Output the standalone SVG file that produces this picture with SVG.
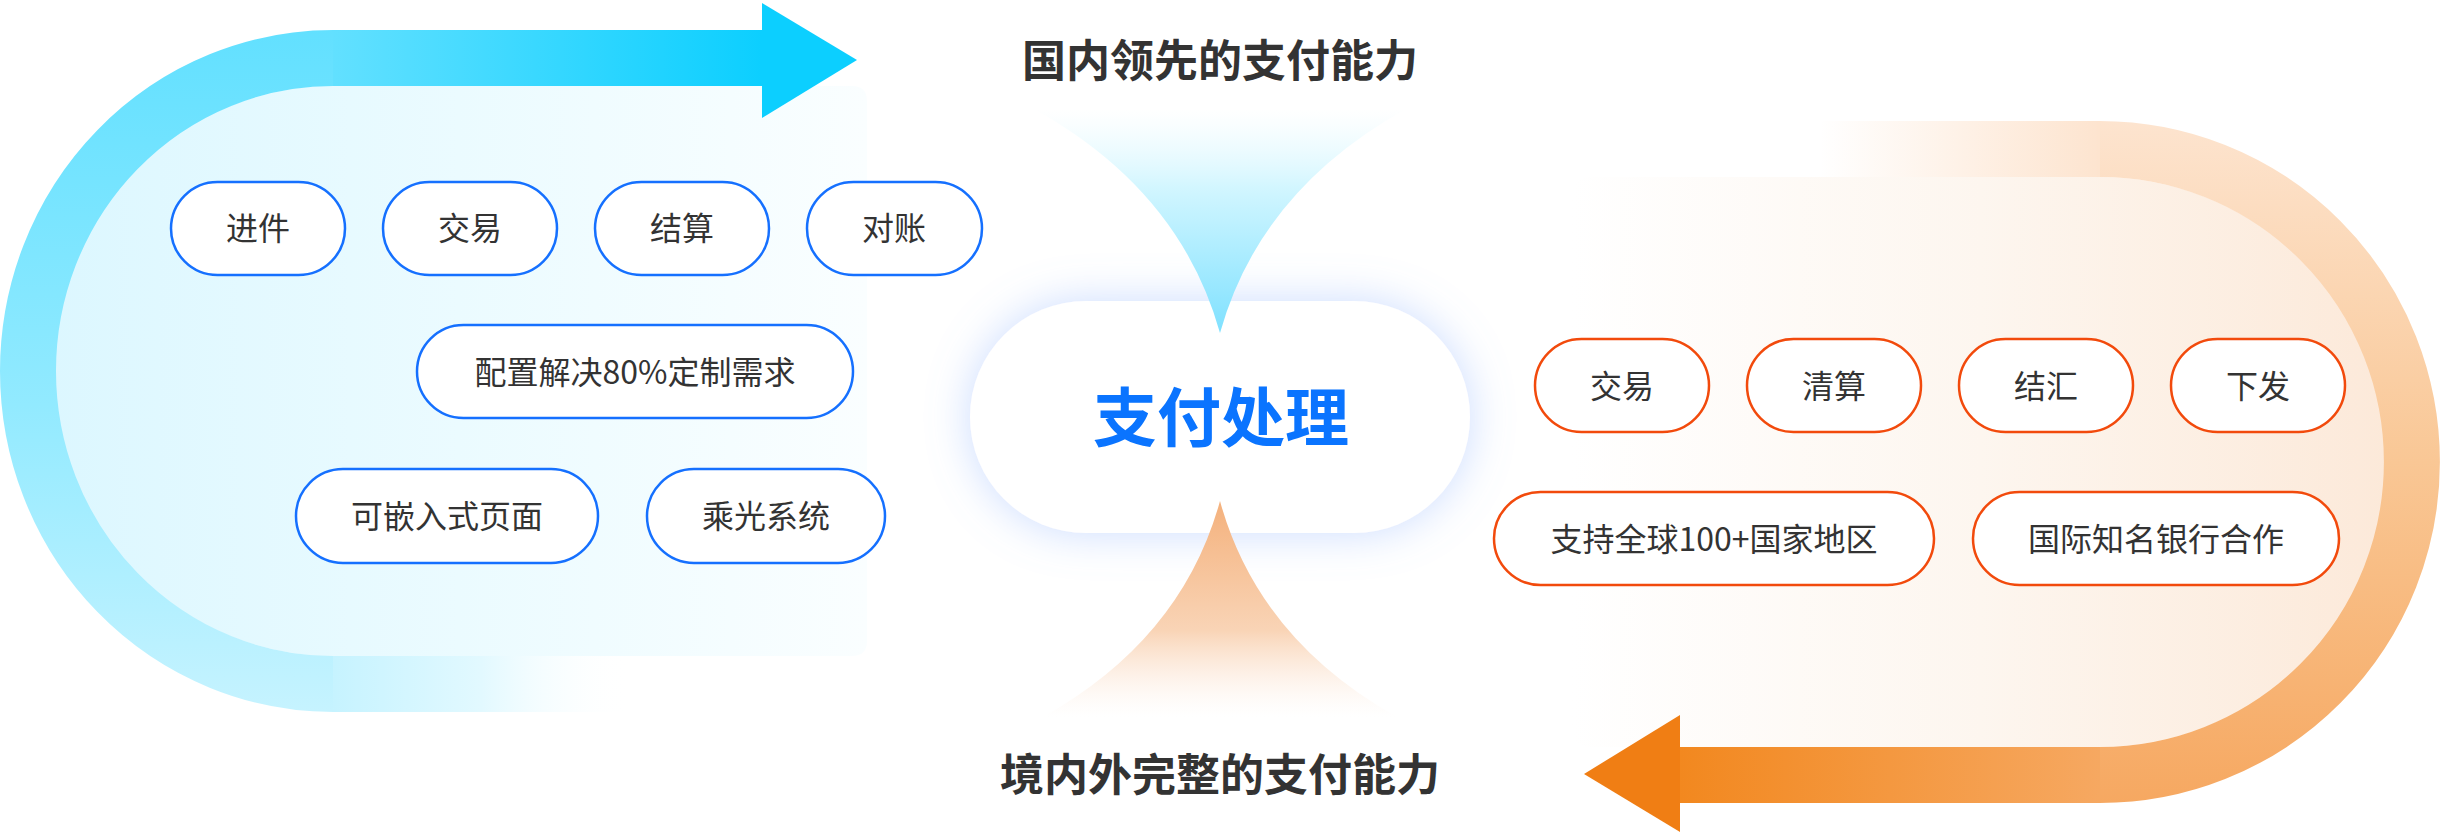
<svg xmlns="http://www.w3.org/2000/svg" width="2440" height="832" viewBox="0 0 2440 832">
<style>
.pb{fill:#ffffff;stroke:#1570ff;stroke-width:2.5}
.po{fill:#ffffff;stroke:#f24a0c;stroke-width:2.5}
.t{font-family:"Noto Sans CJK SC","Noto Sans",sans-serif;font-size:32px;fill:#333333;text-anchor:middle}
.h{font-family:"Noto Sans CJK SC","Noto Sans",sans-serif;font-size:44px;font-weight:700;fill:#333333;text-anchor:middle}
.band{fill:none;stroke-width:56;stroke-linecap:butt}
</style>
<defs>
<linearGradient id="lTop" gradientUnits="userSpaceOnUse" x1="333" y1="0" x2="762" y2="0">
<stop offset="0" stop-color="#62e0ff"/><stop offset="1" stop-color="#0ccfff"/>
</linearGradient>
<linearGradient id="lCurve" gradientUnits="userSpaceOnUse" x1="0" y1="30" x2="0" y2="712">
<stop offset="0" stop-color="#62e0ff"/><stop offset="0.55" stop-color="#92eaff"/><stop offset="1" stop-color="#c6f3ff"/>
</linearGradient>
<linearGradient id="lBot" gradientUnits="userSpaceOnUse" x1="333" y1="0" x2="630" y2="0">
<stop offset="0" stop-color="#c6f3ff"/><stop offset="0.5" stop-color="#e2f9ff"/><stop offset="1" stop-color="#ffffff" stop-opacity="0"/>
</linearGradient>
<linearGradient id="lPanel" gradientUnits="userSpaceOnUse" x1="50" y1="0" x2="867" y2="0">
<stop offset="0" stop-color="#dcf7ff"/><stop offset="0.5" stop-color="#ebfbff"/><stop offset="1" stop-color="#fafeff"/>
</linearGradient>
<linearGradient id="rTop" gradientUnits="userSpaceOnUse" x1="1820" y1="0" x2="2100" y2="0">
<stop offset="0" stop-color="#fde4cf" stop-opacity="0"/><stop offset="1" stop-color="#fde4cf"/>
</linearGradient>
<linearGradient id="rCurve" gradientUnits="userSpaceOnUse" x1="0" y1="121" x2="0" y2="803">
<stop offset="0" stop-color="#fde4cf"/><stop offset="0.5" stop-color="#f9c795"/><stop offset="1" stop-color="#f6a861"/>
</linearGradient>
<linearGradient id="rBot" gradientUnits="userSpaceOnUse" x1="2100" y1="0" x2="1680" y2="0">
<stop offset="0" stop-color="#f6a861"/><stop offset="1" stop-color="#f2881f"/>
</linearGradient>
<linearGradient id="rPanel" gradientUnits="userSpaceOnUse" x1="1572" y1="0" x2="2390" y2="0">
<stop offset="0" stop-color="#ffffff"/><stop offset="0.5" stop-color="#fdf6ef"/><stop offset="1" stop-color="#fce9d9"/>
</linearGradient>
<linearGradient id="fTop" gradientUnits="userSpaceOnUse" x1="0" y1="109" x2="0" y2="333">
<stop offset="0" stop-color="#e6faff" stop-opacity="0"/><stop offset="0.35" stop-color="#d2f6ff"/><stop offset="1" stop-color="#7fe1ff"/>
</linearGradient>
<linearGradient id="fBot" gradientUnits="userSpaceOnUse" x1="0" y1="501" x2="0" y2="717">
<stop offset="0" stop-color="#f4b17c"/><stop offset="0.6" stop-color="#f9d4b6"/><stop offset="1" stop-color="#fdf0e6" stop-opacity="0"/>
</linearGradient>
<filter id="glow" x="-20%" y="-40%" width="140%" height="180%">
<feDropShadow dx="0" dy="0" stdDeviation="22" flood-color="#7ea9ff" flood-opacity="0.4"/>
</filter>
</defs>

<g id="panels">
<path id="panel-left" fill="url(#lPanel)" d="M852,86 L333,86 A279 285 0 0 0 333,656 L852,656 Q867,656 867,641 L867,101 Q867,86 852,86 Z"/>
<path id="panel-right" fill="url(#rPanel)" d="M1592,177 L2100,177 A286 285 0 0 1 2100,747 L1592,747 Q1572,747 1572,727 L1572,197 Q1572,177 1592,177 Z"/>
</g>

<g id="connectors">
<g id="loop-left">
<path class="band" stroke="url(#lCurve)" d="M336,58 L333,58 A305 313 0 0 0 333,684 L336,684"/>
<path class="band" stroke="url(#lTop)" d="M764,58 L333,58"/>
<path class="band" stroke="url(#lBot)" d="M333,684 L630,684"/>
<polygon fill="#0ccfff" points="762,3 857,60 762,118"/>
</g>
<g id="loop-right">
<path class="band" stroke="url(#rCurve)" d="M2097,149 L2100,149 A312 313 0 0 1 2100,775 L2097,775"/>
<path class="band" stroke="url(#rTop)" d="M1820,149 L2100,149"/>
<path class="band" stroke="url(#rBot)" d="M2100,775 L1678,775"/>
<polygon fill="#f07e14" points="1680,715 1584,774 1680,832"/>
</g>
</g>

<g id="center">
<rect x="970" y="301" width="500" height="232" rx="116" fill="#ffffff" filter="url(#glow)"/>
<path id="funnel-top" fill="url(#fTop)" d="M1034,109 Q1180,190 1220,333 Q1260,190 1406,109 Z"/>
<path id="funnel-bottom" fill="url(#fBot)" d="M1220,501 Q1182,639 1043,717 L1397,717 Q1258,639 1220,501 Z"/>
<text x="1221" y="441" style="font-family:'Noto Sans CJK SC','Noto Sans',sans-serif;font-size:64px;font-weight:700;fill:#0a74ff;text-anchor:middle">支付处理</text>
</g>

<g id="title-top"><text class="h" x="1220" y="77">国内领先的支付能力</text></g>
<g id="title-bottom"><text class="h" x="1220" y="791">境内外完整的支付能力</text></g>

<g id="node-jinjian"><rect class="pb" x="171" y="182" width="174" height="93" rx="46.5"/><text class="t" x="258" y="240">进件</text></g>
<g id="node-jiaoyi-l"><rect class="pb" x="383" y="182" width="174" height="93" rx="46.5"/><text class="t" x="470" y="240">交易</text></g>
<g id="node-jiesuan"><rect class="pb" x="595" y="182" width="174" height="93" rx="46.5"/><text class="t" x="682" y="240">结算</text></g>
<g id="node-duizhang"><rect class="pb" x="807" y="182" width="175" height="93" rx="46.5"/><text class="t" x="894" y="240">对账</text></g>
<g id="node-peizhi"><rect class="pb" x="417" y="325" width="436" height="93" rx="46.5"/><text class="t" x="635" y="384">配置解决80%定制需求</text></g>
<g id="node-qianru"><rect class="pb" x="296" y="469" width="302" height="94" rx="47"/><text class="t" x="447" y="528">可嵌入式页面</text></g>
<g id="node-chengguang"><rect class="pb" x="647" y="469" width="238" height="94" rx="47"/><text class="t" x="766" y="528">乘光系统</text></g>

<g id="node-jiaoyi-r"><rect class="po" x="1535" y="339" width="174" height="93" rx="46.5"/><text class="t" x="1622" y="398">交易</text></g>
<g id="node-qingsuan"><rect class="po" x="1747" y="339" width="174" height="93" rx="46.5"/><text class="t" x="1834" y="398">清算</text></g>
<g id="node-jiehui"><rect class="po" x="1959" y="339" width="174" height="93" rx="46.5"/><text class="t" x="2046" y="398">结汇</text></g>
<g id="node-xiafa"><rect class="po" x="2171" y="339" width="174" height="93" rx="46.5"/><text class="t" x="2258" y="398">下发</text></g>
<g id="node-global"><rect class="po" x="1494" y="492" width="440" height="93" rx="46.5"/><text class="t" x="1714" y="551">支持全球100+国家地区</text></g>
<g id="node-banks"><rect class="po" x="1973" y="492" width="366" height="93" rx="46.5"/><text class="t" x="2156" y="551">国际知名银行合作</text></g>
</svg>
